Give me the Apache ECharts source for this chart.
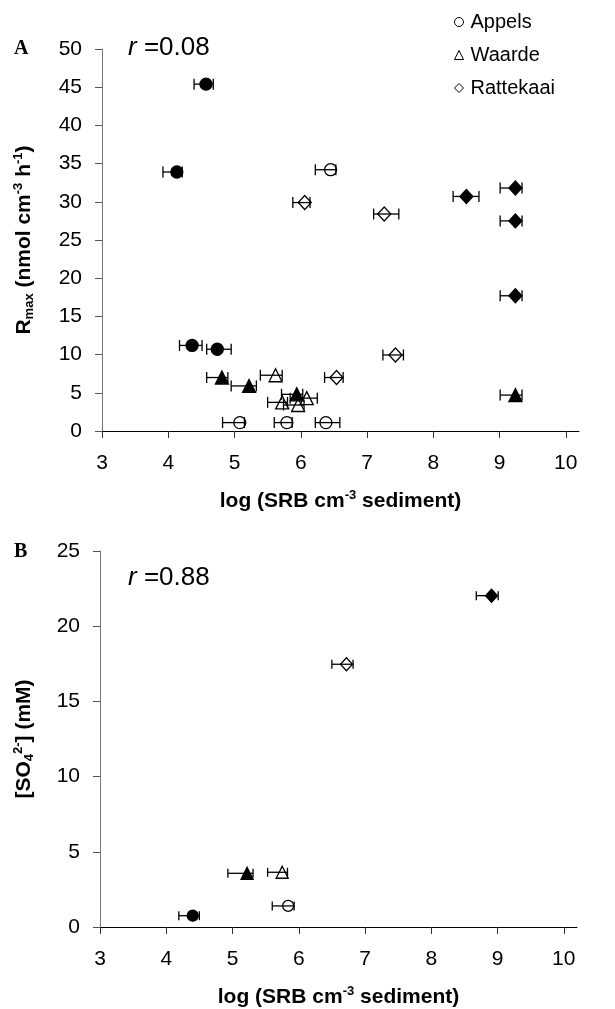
<!DOCTYPE html>
<html>
<head>
<meta charset="utf-8">
<script src="https://cdn.jsdelivr.net/npm/echarts@6/dist/echarts.min.js"></script>
<style>
html,body{margin:0;padding:0;background:#fff;}
#chart{width:615px;height:1009px;}
</style>
</head>
<body>
<div id="chart"></div>
<script>
// ---- data: [log SRB, value, lower x error end, upper x error end] ----
const xTicks = [3, 4, 5, 6, 7, 8, 9, 10];

// Panel A: Rmax
const appelsOpenA = [[5.08, 1.1, 4.82, 5.15], [5.79, 1.1, 5.60, 5.87], [6.38, 1.1, 6.22, 6.59], [6.45, 34.2, 6.22, 6.53]];
const appelsFilledA = [[4.13, 33.9, 3.92, 4.21], [4.57, 45.4, 4.39, 4.68], [4.36, 11.2, 4.17, 4.51], [4.74, 10.7, 4.58, 4.95]];
const waardeOpenA = [[5.62, 7.3, 5.39, 5.72], [6.09, 4.3, 5.84, 6.25], [5.72, 3.75, 5.50, 5.80], [5.96, 3.4, 5.74, 6.05]];
const waardeFilledA = [[4.81, 7.0, 4.58, 4.90], [5.22, 5.9, 4.95, 5.33], [5.94, 4.8, 5.71, 6.03], [9.24, 4.7, 9.01, 9.34]];
const rattekaaiOpenA = [[6.06, 29.9, 5.88, 6.14], [7.26, 28.4, 7.10, 7.48], [6.54, 7.0, 6.36, 6.64], [7.43, 9.95, 7.24, 7.55]];
const rattekaaiFilledA = [[8.50, 30.7, 8.30, 8.69], [9.24, 31.8, 9.01, 9.34], [9.24, 27.5, 9.01, 9.34], [9.24, 17.7, 9.01, 9.34]];

// Panel B: sulfate
const appelsOpenB = [[5.84, 1.4, 5.60, 5.93]];
const appelsFilledB = [[4.40, 0.75, 4.19, 4.50]];
const waardeOpenB = [[5.75, 3.64, 5.53, 5.83]];
const waardeFilledB = [[5.22, 3.57, 4.93, 5.31]];
const rattekaaiOpenB = [[6.72, 17.47, 6.50, 6.82]];
const rattekaaiFilledB = [[8.91, 22.03, 8.68, 9.01]];

const rA = 'r =0.08';
const rB = 'r =0.88';

const FONT = 'Liberation Sans, Arial, sans-serif';

function errSeries(data, gi, cap) {
  return {
    type: 'custom', xAxisIndex: gi, yAxisIndex: gi, data: data, z: 4, silent: true,
    encode: { x: [0, 2, 3], y: 1 },
    renderItem: function (params, api) {
      const y = api.value(1);
      const a = api.coord([api.value(2), y]);
      const b = api.coord([api.value(3), y]);
      const h = cap / 2;
      const st = { stroke: '#000', lineWidth: 1.3, fill: null };
      return {
        type: 'group', children: [
          { type: 'line', shape: { x1: a[0], y1: a[1], x2: b[0], y2: b[1] }, style: st },
          { type: 'line', shape: { x1: a[0], y1: a[1] - h, x2: a[0], y2: a[1] + h }, style: st },
          { type: 'line', shape: { x1: b[0], y1: b[1] - h, x2: b[0], y2: b[1] + h }, style: st }
        ]
      };
    }
  };
}

function ptSeries(name, data, gi, symbol, size, filled) {
  return {
    type: 'scatter', name: name, xAxisIndex: gi, yAxisIndex: gi,
    data: data.map(d => [d[0], d[1]]),
    symbol: symbol, symbolSize: size, z: 3,
    itemStyle: { color: filled ? '#000' : 'rgba(255,255,255,0)', borderColor: '#000', borderWidth: 1.3, opacity: 1 },
    emphasis: { disabled: true }
  };
}

const series = [];
function add(name, data, gi, symbol, size, filled, cap) {
  series.push(ptSeries(name, data, gi, symbol, size, filled));
  series.push(errSeries(data, gi, cap));
}
add('Appels', appelsOpenA, 0, 'circle', 12, false, 11);
add('Appels (filled)', appelsFilledA, 0, 'circle', 12, true, 11);
add('Waarde', waardeOpenA, 0, 'triangle', 13, false, 11);
add('Waarde (filled)', waardeFilledA, 0, 'triangle', 13, true, 11);
add('Rattekaai', rattekaaiOpenA, 0, 'diamond', [13, 14], false, 11);
add('Rattekaai (filled)', rattekaaiFilledA, 0, 'diamond', [13, 14], true, 11);
add('Appels', appelsOpenB, 1, 'circle', 11, false, 9);
add('Appels (filled)', appelsFilledB, 1, 'circle', 11, true, 9);
add('Waarde', waardeOpenB, 1, 'triangle', 12, false, 9);
add('Waarde (filled)', waardeFilledB, 1, 'triangle', 12, true, 9);
add('Rattekaai', rattekaaiOpenB, 1, 'diamond', [12, 13], false, 9);
add('Rattekaai (filled)', rattekaaiFilledB, 1, 'diamond', [12, 13], true, 9);

const richT = {
  b: { fontFamily: FONT, fontWeight: 'bold', fontSize: 21, color: '#000' },
  sup: { fontFamily: FONT, fontWeight: 'bold', fontSize: 13, color: '#000', verticalAlign: 'top', lineHeight: 24 },
  sub: { fontFamily: FONT, fontWeight: 'bold', fontSize: 13, color: '#000', verticalAlign: 'bottom', lineHeight: 24 }
};

const xName = '{b|log (SRB cm}{sup|-3}{b| sediment)}';

function xAxisCfg(gi) {
  return {
    gridIndex: gi, type: 'value', min: 3, max: 10.2, interval: 1,
    axisLine: { onZero: false, lineStyle: { color: '#000', width: 1 } },
    axisTick: { customValues: xTicks, length: 7, lineStyle: { color: '#333' } },
    axisLabel: { customValues: xTicks, fontSize: 21, fontFamily: FONT, color: '#000', margin: 22 },
    splitLine: { show: false },
    name: xName, nameLocation: 'middle', nameGap: 58,
    nameTextStyle: { rich: richT }
  };
}
function yAxisCfg(gi, max, name, gap) {
  return {
    gridIndex: gi, type: 'value', min: 0, max: max, interval: 5,
    axisLine: { show: true, onZero: false, lineStyle: { color: '#777', width: 1 } },
    axisTick: { show: true, length: 7, lineStyle: { color: '#555' } },
    axisLabel: { fontSize: 21, fontFamily: FONT, color: '#000', margin: 20 },
    splitLine: { show: false },
    name: name, nameLocation: 'middle', nameGap: gap,
    nameTextStyle: { rich: richT }
  };
}

const chart = echarts.init(document.getElementById('chart'), null, { renderer: 'canvas' });
chart.setOption({
  animation: false,
  backgroundColor: '#fff',
  grid: [
    { left: 102, top: 49, right: 36, bottom: 578 },
    { left: 100, top: 551, right: 38, bottom: 82 }
  ],
  xAxis: [xAxisCfg(0), xAxisCfg(1)],
  yAxis: [
    yAxisCfg(0, 50, '{b|R}{sub|max}{b| (nmol cm}{sup|-3}{b| h}{sup|-1}{b|)}', 66),
    yAxisCfg(1, 25, '{b|[SO}{sub|4}{sup|2-}{b|] (mM)}', 64)
  ],
  legend: {
    orient: 'vertical', left: 449, top: 7, itemGap: 13,
    itemWidth: 9, itemHeight: 9,
    itemStyle: { borderWidth: 1, color: 'rgba(255,255,255,0)', borderColor: '#000' },
    textStyle: { fontSize: 20, fontFamily: FONT, color: '#000', padding: [0, 0, 0, 2] },
    data: [
      { name: 'Appels', icon: 'circle' },
      { name: 'Waarde', icon: 'triangle' },
      { name: 'Rattekaai', icon: 'diamond' }
    ],
    selectedMode: false
  },
  graphic: [
    { type: 'text', x: 14, y: 49, style: { text: 'A', fontFamily: 'Liberation Serif', fontWeight: 'bold', fontSize: 20, fill: '#000', verticalAlign: 'middle' } },
    { type: 'text', x: 14, y: 552, style: { text: 'B', fontFamily: 'Liberation Serif', fontWeight: 'bold', fontSize: 20, fill: '#000', verticalAlign: 'middle' } },
    { type: 'text', x: 128, y: 48, style: { text: '{i|r} ' + rA.slice(2), rich: { i: { fontStyle: 'italic', fontFamily: FONT, fontSize: 26 } }, fontFamily: FONT, fontSize: 26, fill: '#000', verticalAlign: 'middle' } },
    { type: 'text', x: 128, y: 578, style: { text: '{i|r} ' + rB.slice(2), rich: { i: { fontStyle: 'italic', fontFamily: FONT, fontSize: 26 } }, fontFamily: FONT, fontSize: 26, fill: '#000', verticalAlign: 'middle' } }
  ],
  series: series
});
</script>
</body>
</html>
